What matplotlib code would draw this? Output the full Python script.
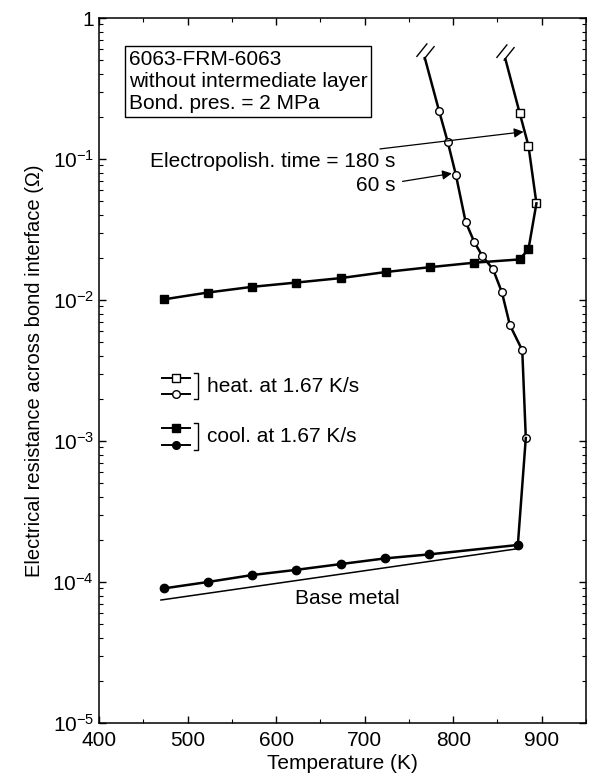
import matplotlib
matplotlib.use("Agg")
import matplotlib.pyplot as plt
from matplotlib.path import Path

plt.rcParams["font.family"] = ["Liberation Sans", "DejaVu Sans"]
plt.rcParams["mathtext.fontset"] = "custom"
plt.rcParams["mathtext.rm"] = "Liberation Sans"
plt.rcParams["mathtext.it"] = "Liberation Sans:italic"
plt.rcParams["mathtext.bf"] = "Liberation Sans:bold"

# heating, electropolish 180 s (open squares), then cooling (filled squares)
sq_heat_T = [859, 875, 885, 894]
sq_heat_R = [0.51, 0.213, 0.124, 0.0485]
sq_cool_T = [894, 885, 875, 824, 774, 724, 673, 623, 573, 523, 473]
sq_cool_R = [0.0485, 0.0229, 0.0194, 0.0184, 0.0171, 0.0158, 0.0143, 0.0133, 0.0124, 0.0113, 0.0101]

# heating, electropolish 60 s (open circles), then cooling (filled circles)
ci_heat_T = [768, 784, 794, 803, 814, 824, 833, 845, 855, 864, 878, 882]
ci_heat_R = [0.52, 0.220, 0.131, 0.0774, 0.0359, 0.0256, 0.0205, 0.0165, 0.01135, 0.00665, 0.0044, 0.00105]
ci_cool_T = [882, 873, 773, 723, 673, 623, 573, 523, 473]
ci_cool_R = [0.00105, 1.83e-4, 1.57e-4, 1.47e-4, 1.34e-4, 1.22e-4, 1.12e-4, 1.0e-4, 9.0e-5]

base_T = [470, 875]
base_R = [7.45e-5, 1.73e-4]

x_ticks = [400, 500, 600, 700, 800, 900]
y_ticks = [1e-5, 1e-4, 1e-3, 1e-2, 1e-1, 1]
y_tick_labels = ["$10^{-5}$", "$10^{-4}$", "$10^{-3}$", "$10^{-2}$", "$10^{-1}$", "1"]

LW = 1.8
MS = 5.5
FS = 15

# break mark "//" used at the top end of the heating curves
brk = Path([(-1.0, -0.6), (0.2, 0.9), (-0.2, -0.9), (1.0, 0.6)],
           [Path.MOVETO, Path.LINETO, Path.MOVETO, Path.LINETO])

fig = plt.figure(figsize=(5.92, 7.80), dpi=100)
ax = fig.add_axes([0.1672, 0.0731, 0.8227, 0.9038])
ax.set_yscale("log")
ax.set_xlim(400, 950)
ax.set_ylim(1e-5, 1)

ax.plot(base_T, base_R, color="black", lw=1.1)
ax.plot(sq_heat_T, sq_heat_R, color="black", lw=LW, marker="s", ms=MS,
        mfc="white", mec="black", mew=1.0, markevery=list(range(1, len(sq_heat_T))))
ax.plot(sq_cool_T[:2], sq_cool_R[:2], color="black", lw=LW)
ax.plot(sq_cool_T[1:], sq_cool_R[1:], color="black", lw=LW, marker="s", ms=MS + 0.5,
        mfc="black", mec="black")
ax.plot(ci_heat_T, ci_heat_R, color="black", lw=LW, marker="o", ms=MS,
        mfc="white", mec="black", mew=1.0, markevery=list(range(1, len(ci_heat_T))))
ax.plot(ci_cool_T[:2], ci_cool_R[:2], color="black", lw=LW)
ax.plot(ci_cool_T[1:], ci_cool_R[1:], color="black", lw=LW, marker="o", ms=MS + 0.5,
        mfc="black", mec="black")
ax.plot([sq_heat_T[0], ci_heat_T[0]], [sq_heat_R[0] * 1.12, ci_heat_R[0] * 1.12],
        ls="none", marker=brk, ms=13, mew=1.0, color="black")

ax.text(680, 7.6e-5, "Base metal", ha="center", va="center", fontsize=FS)

arrow = dict(arrowstyle="-|>", color="black", lw=0.9, mutation_scale=14, shrinkA=3, shrinkB=0)
ax.annotate("Electropolish. time = 180 s", xy=(879.5, 0.156), xytext=(735, 0.0957),
            ha="right", va="center", fontsize=FS, arrowprops=arrow)
ax.annotate("60 s", xy=(798.5, 0.079), xytext=(735, 0.0647),
            ha="right", va="center", fontsize=FS, arrowprops=arrow)

ax.text(0.061, 0.955, "6063-FRM-6063\nwithout intermediate layer\nBond. pres. = 2 MPa",
        transform=ax.transAxes, ha="left", va="top", fontsize=FS, linespacing=1.22,
        bbox=dict(boxstyle="square,pad=0.18", fc="white", ec="black", lw=1.0))

# legend with brackets
tr = ax.transAxes
for y, mk, fill in [(0.489, "s", "white"), (0.467, "o", "white"),
                    (0.418, "s", "black"), (0.394, "o", "black")]:
    ax.plot([0.129, 0.187], [y, y], transform=tr, color="black", lw=1.4)
    ax.plot([0.158], [y], transform=tr, ls="none", marker=mk, ms=MS, mfc=fill,
            mec="black", mew=1.0)
for y0, y1, label in [(0.460, 0.496, "heat. at 1.67 K/s"), (0.387, 0.425, "cool. at 1.67 K/s")]:
    ax.plot([0.195, 0.204, 0.204, 0.195], [y1, y1, y0, y0], transform=tr,
            color="black", lw=1.0)
    ax.text(0.222, (y0 + y1) / 2, label, transform=tr, ha="left", va="center",
            fontsize=FS)

ax.set_xticks(x_ticks)
ax.set_xticks(range(450, 951, 100), minor=True)
ax.set_yticks(y_ticks)
ax.set_yticklabels(y_tick_labels)
ax.tick_params(which="both", direction="in", top=True, right=True, labelsize=15)
ax.tick_params(which="major", length=5, width=1.0)
ax.tick_params(which="minor", length=3, width=0.8)
ax.tick_params(axis="x", pad=6)
for s in ax.spines.values():
    s.set_linewidth(1.1)

ax.set_xlabel("Temperature (K)", fontsize=FS, labelpad=3)
ax.set_ylabel("Electrical resistance across bond interface (\u03a9)", fontsize=14.5, labelpad=6)

fig.savefig("out.png", dpi=100)
